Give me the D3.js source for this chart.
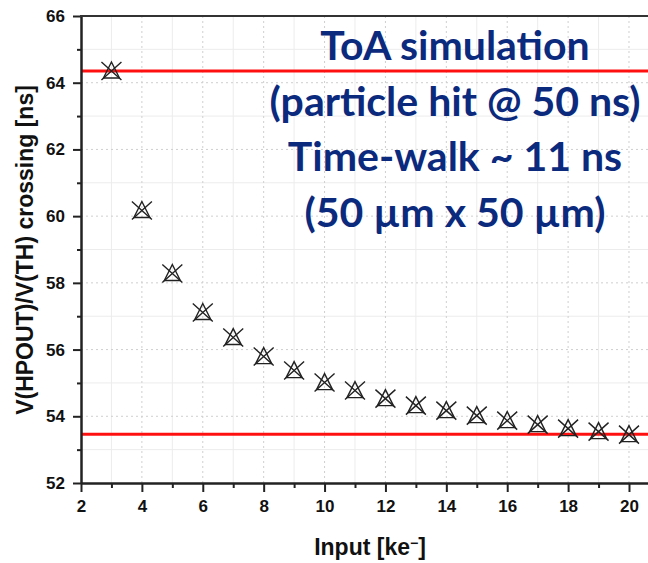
<!DOCTYPE html>
<html>
<head>
<meta charset="utf-8">
<script src="https://cdn.jsdelivr.net/npm/d3@7"></script>
<style>
  body { margin: 0; background: #fff; }
  svg { display: block; }
</style>
</head>
<body>
<div class="canvas"></div>
<script>
// data
const inputs = [3, 4, 5, 6, 7, 8, 9, 10, 11, 12, 13, 14, 15, 16, 17, 18, 19, 20];
const crossing = [64.35, 60.17, 58.28, 57.11, 56.36, 55.79, 55.37, 55.01, 54.77, 54.53,
  54.32, 54.17, 54.02, 53.87, 53.75, 53.63, 53.54, 53.45];
const refLines = [64.35, 53.46];
const xTicks = [2, 4, 6, 8, 10, 12, 14, 16, 18, 20];
const yTicks = [52, 54, 56, 58, 60, 62, 64, 66];
const noteLines = ['ToA simulation', '(particle hit @ 50 ns)', 'Time-walk ~ 11 ns', '(50 µm x 50 µm)'];

const dims = { width: 648, height: 563 };
const plot = { left: 81, right: 650, top: 16, bottom: 483 };

const svg = d3.select('.canvas')
  .append('svg')
    .attr('width', dims.width)
    .attr('height', dims.height)

const x = d3.scaleLinear().domain([2, 20.69]).range([plot.left, plot.right]);
const y = d3.scaleLinear().domain([52, 66]).range([plot.bottom, plot.top]);

const minorX = d3.range(3, 21, 2);
const minorY = d3.range(53, 66, 2);

// grid
const grid = svg.append('g')
grid.selectAll('.gx-min').data(minorX).enter().append('line')
  .attr('x1', d => x(d)).attr('x2', d => x(d))
  .attr('y1', plot.top).attr('y2', plot.bottom)
  .attr('stroke', '#ececec').attr('stroke-width', 1)
grid.selectAll('.gy-min').data(minorY).enter().append('line')
  .attr('y1', d => y(d)).attr('y2', d => y(d))
  .attr('x1', plot.left).attr('x2', plot.right)
  .attr('stroke', '#ececec').attr('stroke-width', 1)
grid.selectAll('.gx').data(xTicks.slice(1)).enter().append('line')
  .attr('x1', d => x(d)).attr('x2', d => x(d))
  .attr('y1', plot.top).attr('y2', plot.bottom)
  .attr('stroke', '#cfcfcf').attr('stroke-width', 1).attr('stroke-dasharray', '2,3')
grid.selectAll('.gy').data(yTicks.slice(1, -1)).enter().append('line')
  .attr('y1', d => y(d)).attr('y2', d => y(d))
  .attr('x1', plot.left).attr('x2', plot.right)
  .attr('stroke', '#cfcfcf').attr('stroke-width', 1).attr('stroke-dasharray', '2,3')

// red reference lines
svg.selectAll('.ref').data(refLines).enter().append('line')
  .attr('x1', plot.left).attr('x2', plot.right)
  .attr('y1', d => y(d)).attr('y2', d => y(d))
  .attr('stroke', '#ff1010').attr('stroke-width', 3)

// axes
const tickFont = 'bold 17px "Liberation Sans", Arial, sans-serif';
const xAxis = svg.append('g')
  .attr('transform', `translate(0, ${plot.bottom})`)
  .call(d3.axisBottom(x).tickValues(xTicks).tickSize(9).tickPadding(8).tickSizeOuter(0))
const xMinor = svg.append('g')
  .attr('transform', `translate(0, ${plot.bottom})`)
  .call(d3.axisBottom(x).tickValues(minorX).tickSize(5).tickFormat('').tickSizeOuter(0))
const yAxis = svg.append('g')
  .attr('transform', `translate(${plot.left}, 0)`)
  .call(d3.axisLeft(y).tickValues(yTicks).tickSize(8).tickPadding(8).tickSizeOuter(0))
const yMinor = svg.append('g')
  .attr('transform', `translate(${plot.left}, 0)`)
  .call(d3.axisLeft(y).tickValues(minorY).tickSize(4).tickFormat('').tickSizeOuter(0))

;[xAxis, xMinor, yAxis, yMinor].forEach(a => {
  a.select('.domain').attr('stroke', '#222').attr('stroke-width', 2)
  a.selectAll('.tick line').attr('stroke', '#222').attr('stroke-width', 2)
  a.selectAll('text').style('font', tickFont).attr('fill', '#111')
})

// top frame
svg.append('line')
  .attr('x1', plot.left - 1).attr('x2', plot.right)
  .attr('y1', plot.top).attr('y2', plot.top)
  .attr('stroke', '#333').attr('stroke-width', 2)

// markers: triangle + cross
const pts = svg.append('g')
  .selectAll('g')
  .data(inputs.map((d, i) => ({ x: d, y: crossing[i] })))
  .enter().append('g')
    .attr('transform', d => `translate(${x(d.x)}, ${y(d.y)})`)
    .attr('fill', 'none').attr('stroke', '#222').attr('stroke-width', 1.4)
pts.append('path').attr('d', 'M0,-9 L8,7 L-8,7 Z')
pts.append('path').attr('d', 'M-10,-9 L10,9 M10,-9 L-10,9')

// axis titles
svg.append('text')
  .attr('x', 370).attr('y', 555)
  .attr('text-anchor', 'middle')
  .style('font', 'bold 23px "Liberation Sans", Arial, sans-serif')
  .attr('fill', '#111')
  .html('Input [ke<tspan dy="-7" font-size="14">−</tspan><tspan dy="7">]</tspan>')

svg.append('text')
  .attr('transform', 'translate(33, 250) rotate(-90)')
  .attr('text-anchor', 'middle')
  .style('font', 'bold 23px "Liberation Sans", Arial, sans-serif')
  .attr('fill', '#111')
  .text('V(HPOUT)/V(TH) crossing [ns]')

// annotation
svg.append('g').selectAll('text')
  .data(noteLines)
  .enter().append('text')
    .attr('x', 455)
    .attr('y', (d, i) => 60 + i * 55.5)
    .attr('text-anchor', 'middle')
    .style('font', 'bold 41px Lato, "Open Sans", sans-serif')
    .attr('fill', '#0b2a7e')
    .text(d => d)
</script>
</body>
</html>
